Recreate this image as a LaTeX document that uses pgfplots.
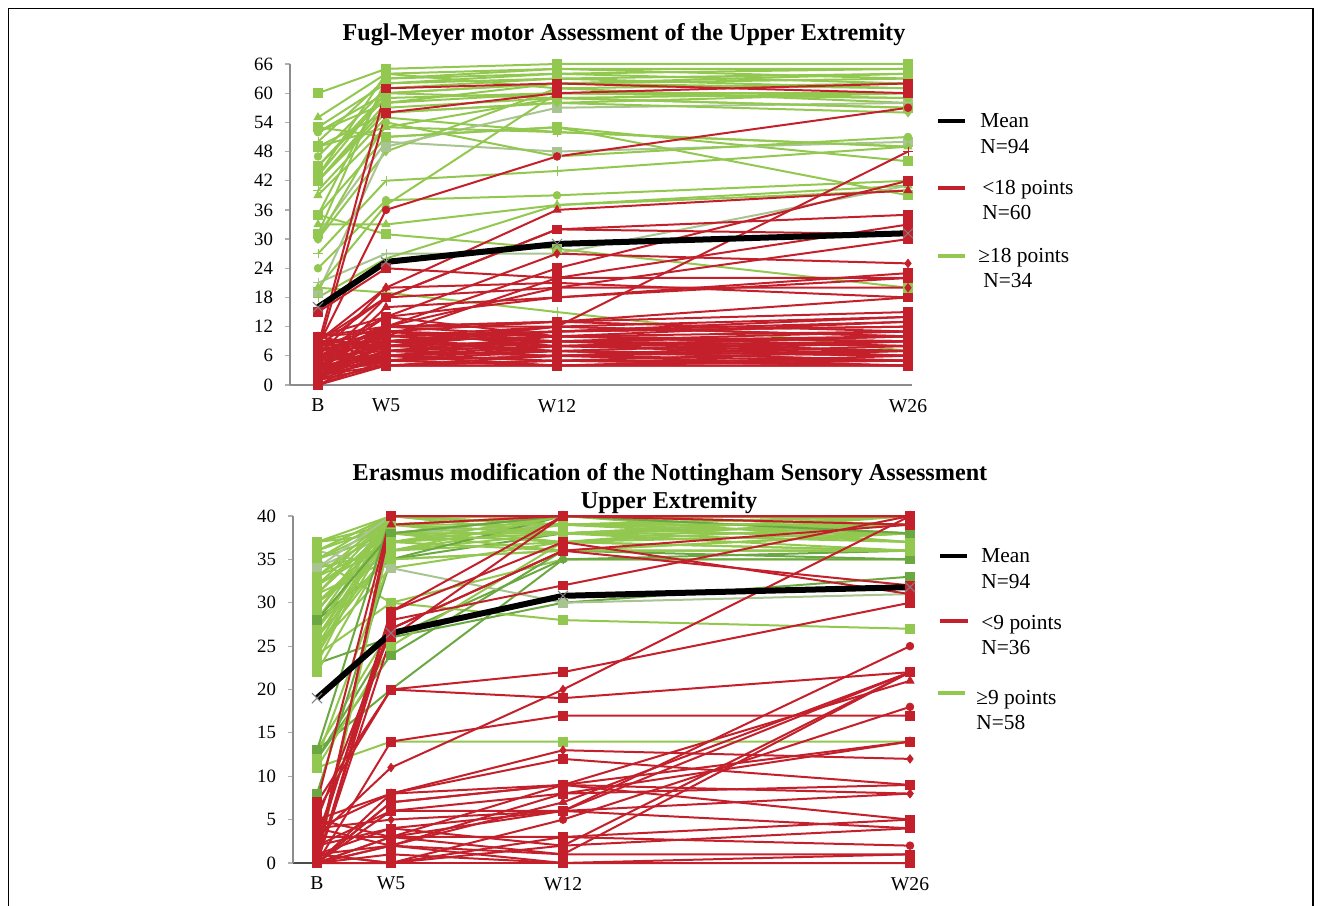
\documentclass[border=0pt]{standalone}
\usepackage{fontspec}
\setmainfont{Liberation Serif}
\usepackage{pgfplots}
\pgfplotsset{compat=1.18}

\definecolor{cred}{RGB}{196,32,44}
\definecolor{cgrn}{RGB}{146,200,80}
\definecolor{cdgrn}{RGB}{108,168,66}
\definecolor{cggrn}{RGB}{168,196,145}
\definecolor{caxis}{RGB}{140,140,140}

\pgfplotsset{
  ln/.style={line width=1pt, mark size=2.2pt, mark options={solid, line width=0.4pt}},
  R/.style={ln, color=cred},
  G/.style={ln, color=cgrn},
  D/.style={ln, color=cdgrn},
  Y/.style={ln, color=cggrn},
  ms/.style={mark=square*},
  mc/.style={mark=*, mark size=1.9pt},
  mt/.style={mark=triangle*, mark size=2.3pt},
  md/.style={mark=diamond*, mark size=2.1pt},
  mp/.style={mark=+, mark size=2.4pt},
  mean/.style={line width=3pt, color=black, mark=x, mark size=3.6pt,
    mark options={draw=gray, line width=0.5pt}},
  panel/.style={scale only axis, clip=false,
    axis lines*=left,
    axis line style={-, draw=caxis, line width=0.7pt},
    tick align=outside, major tick length=2.5pt,
    ytick style={draw=caxis!70, line width=0.6pt},
    xtick style={draw=none},
    /pgf/number format/assume math mode=true,
    yticklabel style={font=\fontsize{9.4}{11}\selectfont, xshift=-2.5pt},
    xticklabel style={font=\fontsize{9.8}{11}\selectfont, yshift=-1pt},
  },
}
% one patient: B, W5, W12, W26
\newcommand\fm[5]{\addplot[#1] coordinates {(0,#2) (68,#3) (239,#4) (590,#5)};}
\newcommand\ns[5]{\addplot[#1] coordinates {(0,#2) (74,#3) (246,#4) (593,#5)};}

\begin{document}
\begin{tikzpicture}
\useasboundingbox (0,0) rectangle (660.5pt,452.5pt);
\draw[line width=0.8pt] (4.25pt,-2pt) -- (4.25pt,448.25pt) -- (656.5pt,448.25pt) -- (656.5pt,-2pt);

% ---------------- Fugl-Meyer ----------------
\begin{axis}[panel, at={(145pt,260pt)}, anchor=south west,
  width=311pt, height=160.5pt,
  xmin=-28, xmax=594, ymin=0, ymax=66,
  ytick={0,6,...,66},
  xtick={0,68,239,590}, xticklabels={B,W5,W12,W26}]
\fm{G,ms}{60}{65}{66}{66}
\fm{G,mt}{55}{64}{65}{65}
\fm{G,ms}{53}{62}{63}{64}
\fm{G,mc}{52}{60}{62}{63}
\fm{G,mp}{50}{63}{64}{62}
\fm{G,ms}{49}{56}{58}{60}
\fm{G,mc}{47}{61}{63}{61}
\fm{G,ms}{45}{59}{60}{59}
\fm{G,mt}{43}{64}{61}{58}
\fm{G,ms}{42}{57}{59}{57}
\fm{G,md}{42}{58}{62}{64}
\fm{G,mp}{40}{55}{52}{49}
\fm{G,mt}{39}{53}{59}{60}
\fm{G,ms}{35}{62}{64}{65}
\fm{G,ms}{35}{51}{53}{46}
\fm{G,mt}{33}{33}{37}{41}
\fm{Y,ms}{31}{50}{48}{50}
\fm{G,mc}{30}{54}{47}{51}
\fm{G,md}{30}{48}{61}{62}
\fm{G,mp}{27}{42}{44}{49}
\fm{G,mc}{24}{38}{39}{42}
\fm{Y,mp}{21}{27}{27}{41}
\fm{G,mp}{20}{19}{15}{7}
\fm{Y,ms}{19}{49}{57}{58}
\fm{G,ms}{53}{51}{53}{39}
\fm{G,md}{42}{56}{58}{56}
\fm{G,mt}{20}{37}{60}{60}
\fm{G,ms}{31}{63}{65}{63}
\fm{G,mc}{52}{58}{60}{59}
\fm{G,ms}{43}{60}{62}{61}
\fm{G,mp}{18}{26}{37}{40}
\fm{G,ms}{35}{31}{28}{20}
\fm{G,mt}{49}{53}{52}{49}
\fm{G,ms}{45}{60}{59}{57}
\fm{R,ms}{8}{61}{62}{60}
\fm{R,ms}{7}{56}{60}{62}
\fm{R,mc}{8}{36}{47}{57}
\fm{R,ms}{15}{24}{22}{22}
\fm{R,mt}{9}{20}{36}{40}
\fm{R,ms}{4}{18}{32}{35}
\fm{R,md}{10}{14}{27}{25}
\fm{R,mt}{3}{16}{18}{22}
\fm{R,ms}{6}{12}{24}{42}
\fm{R,ms}{2}{10}{22}{33}
\fm{R,ms}{5}{12}{20}{30}
\fm{R,mp}{3}{8}{12}{48}
\fm{R,ms}{9}{18}{32}{31}
\fm{R,md}{6}{20}{21}{18}
\fm{R,ms}{7}{14}{18}{23}
\fm{R,ms}{2}{11}{13}{15}
\fm{R,ms}{1}{9}{12}{14}
\fm{R,ms}{0}{7}{10}{13}
\fm{R,ms}{4}{6}{9}{11}
\fm{R,ms}{5}{8}{11}{12}
\fm{R,ms}{3}{5}{8}{10}
\fm{R,ms}{2}{4}{6}{9}
\fm{R,ms}{6}{10}{9}{8}
\fm{R,ms}{8}{12}{13}{11}
\fm{R,ms}{10}{11}{10}{9}
\fm{R,ms}{1}{4}{5}{4}
\fm{R,ms}{0}{5}{6}{5}
\fm{R,ms}{2}{6}{7}{6}
\fm{R,ms}{3}{7}{8}{7}
\fm{R,ms}{4}{9}{8}{6}
\fm{R,ms}{5}{6}{5}{5}
\fm{R,ms}{7}{8}{9}{10}
\fm{R,ms}{9}{10}{11}{12}
\fm{R,ms}{1}{4}{4}{4}
\fm{R,ms}{6}{5}{6}{7}
\fm{R,ms}{8}{9}{7}{5}
\fm{R,ms}{2}{5}{4}{6}
\fm{R,ms}{3}{12}{10}{8}
\fm{R,ms}{10}{7}{6}{8}
\fm{R,ms}{4}{4}{5}{4}
\fm{R,ms}{5}{10}{12}{10}
\fm{R,ms}{7}{11}{8}{9}
\fm{R,ms}{9}{5}{7}{6}
\fm{R,ms}{0}{4}{4}{5}
\fm{R,ms}{6}{9}{10}{11}
\fm{R,ms}{1}{6}{7}{9}
\fm{R,ms}{8}{4}{5}{7}
\fm{R,ms}{3}{9}{11}{13}
\fm{R,ms}{2}{7}{6}{4}
\fm{R,ms}{4}{11}{9}{7}
\fm{R,ms}{9}{8}{7}{5}
\fm{R,ms}{5}{6}{8}{10}
\fm{R,ms}{7}{10}{11}{14}
\fm{R,ms}{10}{12}{12}{10}
\fm{R,ms}{6}{7}{9}{8}
\fm{R,ms}{1}{12}{13}{18}
\fm{R,md}{8}{18}{20}{20}
\fm{R,ms}{3}{6}{4}{4}
\fm{R,ms}{2}{8}{9}{6}
\fm{R,md}{5}{14}{10}{9}
\addplot[mean] coordinates {(0,16) (68,25.3) (239,29) (590,31.2)};
\end{axis}

% ---------------- EmNSA ----------------
\begin{axis}[panel, at={(146.5pt,21pt)}, anchor=south west,
  width=310pt, height=173.5pt,
  x axis line style={draw=black!70},
  xmin=-24, xmax=596, ymin=0, ymax=40,
  ytick={0,5,...,40},
  xtick={0,74,246,593}, xticklabels={B,W5,W12,W26}]
\ns{G,ms}{37}{40}{40}{40}
\ns{G,ms}{36}{40}{39}{40}
\ns{G,ms}{35}{39}{40}{39}
\ns{Y,ms}{34}{38}{39}{38}
\ns{G,ms}{33}{40}{38}{39}
\ns{G,ms}{32}{37}{40}{40}
\ns{G,ms}{31}{39}{37}{38}
\ns{G,mt}{30}{36}{39}{37}
\ns{D,ms}{28}{35}{38}{39}
\ns{G,mp}{27}{40}{40}{38}
\ns{G,ms}{26}{38}{36}{36}
\ns{G,mc}{25}{34}{37}{40}
\ns{G,mt}{24}{30}{35}{35}
\ns{D,ms}{23}{26}{30}{33}
\ns{D,mp}{13}{20}{35}{36}
\ns{D,mc}{12}{26}{35}{35}
\ns{G,ms}{11}{14}{14}{14}
\ns{Y,ms}{36}{34}{30}{31}
\ns{G,ms}{35}{30}{28}{27}
\ns{G,ms}{0}{0}{0}{0}
\ns{G,ms}{37}{39}{40}{39}
\ns{G,ms}{36}{40}{38}{36}
\ns{G,ms}{35}{38}{40}{40}
\ns{G,ms}{34}{36}{38}{40}
\ns{G,ms}{33}{37}{39}{38}
\ns{G,ms}{32}{40}{39}{39}
\ns{G,md}{31}{35}{36}{36}
\ns{G,ms}{30}{38}{40}{37}
\ns{G,mp}{29}{39}{38}{39}
\ns{G,ms}{28}{40}{39}{40}
\ns{G,ms}{27}{37}{36}{38}
\ns{G,ms}{26}{39}{40}{38}
\ns{G,mc}{25}{36}{37}{36}
\ns{G,ms}{24}{38}{38}{39}
\ns{G,ms}{23}{40}{40}{40}
\ns{G,ms}{13}{27}{36}{38}
\ns{D,ms}{12}{24}{36}{35}
\ns{D,ms}{8}{35}{40}{40}
\ns{G,ms}{11}{25}{37}{36}
\ns{G,ms}{0}{38}{40}{40}
\ns{G,ms}{37}{38}{37}{39}
\ns{G,ms}{36}{39}{40}{40}
\ns{G,ms}{35}{40}{40}{39}
\ns{Y,ms}{34}{40}{40}{40}
\ns{G,ms}{33}{39}{39}{40}
\ns{G,ms}{32}{38}{38}{37}
\ns{G,ms}{31}{40}{40}{40}
\ns{G,ms}{30}{37}{38}{38}
\ns{G,ms}{29}{40}{39}{39}
\ns{G,ms}{26}{36}{40}{40}
\ns{G,ms}{25}{39}{40}{40}
\ns{G,mt}{24}{40}{40}{40}
\ns{G,ms}{27}{39}{38}{40}
\ns{D,ms}{28}{38}{40}{38}
\ns{G,ms}{22}{37}{39}{39}
\ns{G,ms}{0}{0}{0}{0}
\ns{D,ms}{13}{40}{40}{40}
\ns{G,ms}{12}{35}{36}{36}
\ns{R,ms}{0}{40}{40}{40}
\ns{R,mt}{1}{39}{40}{40}
\ns{R,ms}{2}{29}{37}{31}
\ns{R,ms}{0}{28}{32}{40}
\ns{R,mt}{5}{27}{36}{39}
\ns{R,ms}{0}{26}{40}{39}
\ns{R,ms}{6}{20}{19}{22}
\ns{R,ms}{0}{14}{17}{17}
\ns{R,ms}{7}{20}{22}{30}
\ns{R,md}{3}{11}{20}{40}
\ns{R,md}{0}{8}{13}{12}
\ns{R,ms}{4}{8}{12}{9}
\ns{R,md}{0}{7}{9}{8}
\ns{R,mc}{2}{6}{6}{22}
\ns{R,ms}{1}{4}{2}{22}
\ns{R,ms}{0}{3}{1}{22}
\ns{R,mt}{0}{2}{7}{22}
\ns{R,mt}{5}{8}{9}{21}
\ns{R,mc}{3}{3}{6}{25}
\ns{R,mc}{0}{0}{5}{18}
\ns{R,mt}{1}{2}{8}{14}
\ns{R,ms}{0}{7}{9}{5}
\ns{R,ms}{2}{4}{6}{4}
\ns{R,mc}{0}{3}{3}{2}
\ns{R,ms}{4}{2}{1}{1}
\ns{R,ms}{0}{0}{0}{0}
\ns{R,ms}{1}{0}{2}{4}
\ns{R,ms}{0}{2}{0}{0}
\ns{R,mt}{0}{29}{40}{40}
\ns{R,md}{7}{40}{40}{40}
\ns{R,ms}{3}{27}{36}{32}
\ns{R,ms}{0}{6}{8}{9}
\ns{R,ms}{1}{0}{3}{5}
\ns{R,md}{4}{5}{6}{8}
\ns{R,ms}{0}{1}{0}{1}
\ns{R,ms}{5}{3}{9}{14}
\addplot[mean] coordinates {(0,19) (74,26.5) (246,30.8) (593,31.8)};
\end{axis}

% titles
\node[font=\bfseries\fontsize{12.1}{14}\selectfont] at (312pt,435pt)
  {Fugl-Meyer motor Assessment of the Upper Extremity};
\node[font=\bfseries\fontsize{12.1}{14}\selectfont] at (335pt,215pt)
  {Erasmus modification of the Nottingham Sensory Assessment};
\node[font=\bfseries\fontsize{12.1}{14}\selectfont] at (334.5pt,201pt)
  {Upper Extremity};

% legends
\begin{scope}[every node/.style={inner sep=0pt, anchor=base west,
    font=\fontsize{10.7}{12.8}\selectfont}]
\draw[line width=2pt, black] (469pt,392pt) -- (482.5pt,392pt);
\node at (490pt,388.5pt) {Mean};
\node at (490pt,375.5pt) {N=94};
\draw[line width=1.6pt, cred] (469pt,358.5pt) -- (482.5pt,358.5pt);
\node at (491pt,355pt) {<18 points};
\node at (491pt,342.5pt) {N=60};
\draw[line width=1.6pt, cgrn] (469pt,324.5pt) -- (482.5pt,324.5pt);
\node at (489pt,321pt) {≥18 points};
\node at (491.5pt,308.5pt) {N=34};

\draw[line width=2pt, black] (470pt,174.5pt) -- (483.5pt,174.5pt);
\node at (490.5pt,171pt) {Mean};
\node at (490.5pt,158pt) {N=94};
\draw[line width=1.6pt, cred] (470pt,142pt) -- (484pt,142pt);
\node at (490.5pt,137.5pt) {<9 points};
\node at (490.5pt,125pt) {N=36};
\draw[line width=1.6pt, cgrn] (469pt,106pt) -- (482.5pt,106pt);
\node at (488pt,100.5pt) {≥9 points};
\node at (488pt,88pt) {N=58};
\end{scope}
\end{tikzpicture}
\end{document}
